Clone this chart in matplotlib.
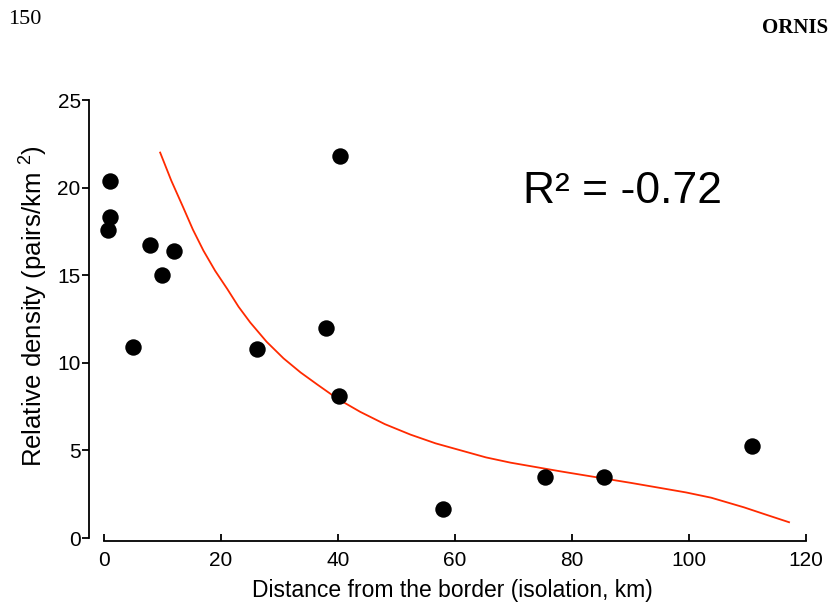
import matplotlib
matplotlib.use("Agg")
import matplotlib as mpl
import matplotlib.pyplot as plt

mpl.rcParams["mathtext.fontset"] = "custom"
mpl.rcParams["mathtext.rm"] = "Liberation Sans"
mpl.rcParams["mathtext.it"] = "Liberation Sans"

# Observed points
distance_km = [1.0, 1.0, 0.7, 7.9, 12.0, 9.9, 4.9, 26.2, 38.0, 40.4, 40.1, 58.0, 75.3, 85.4, 110.8]
density = [20.4, 18.3, 17.6, 16.7, 16.4, 15.0, 10.9, 10.8, 12.0, 21.8, 8.1, 1.65, 3.5, 3.5, 5.25]

# Fitted curve
fit_x = [9.6, 11.5, 13.5, 15.2, 17.0, 19.0, 21.1, 23.0, 25.0, 27.8, 30.7, 33.6, 36.5, 39.9,
         43.8, 48.0, 52.4, 56.7, 61.0, 65.3, 69.5, 73.8, 78.1, 85.4, 90.0, 95.2, 99.5, 103.8,
         109.4, 113.0, 117.1]
fit_y = [22.0, 20.4, 18.9, 17.6, 16.4, 15.25, 14.2, 13.2, 12.3, 11.2, 10.25, 9.45, 8.75, 7.95,
         7.2, 6.5, 5.9, 5.4, 5.0, 4.6, 4.3, 4.05, 3.8, 3.4, 3.15, 2.85, 2.6, 2.3,
         1.75, 1.35, 0.9]

x_ticks = [0, 20, 40, 60, 80, 100, 120]
y_ticks = [0, 5, 10, 15, 20, 25]

W, H = 830, 607
fig = plt.figure(figsize=(W / 100, H / 100), dpi=100)
fig.patch.set_facecolor("white")

left_px, right_px, bottom_px, top_px = 89, 816, 541, 96
ax = fig.add_axes([left_px / W, 1 - bottom_px / H, (right_px - left_px) / W, (bottom_px - top_px) / H])

xpx = 5.85
ypx = 17.52
ax.set_xlim(-(104 - left_px) / xpx, 120 + (right_px - 806) / xpx)
ax.set_ylim(-(bottom_px - 538) / ypx, 25 + (100 - top_px) / ypx)

ax.scatter(distance_km, density, s=140, color="black", zorder=3, linewidths=0)
ax.plot(fit_x, fit_y, color="#ff2a00", linewidth=1.3, zorder=2)

for s in ["top", "right"]:
    ax.spines[s].set_visible(False)
ax.spines["left"].set_bounds(0, 25)
ax.spines["bottom"].set_bounds(0, 120)
ax.spines["left"].set_linewidth(1.3)
ax.spines["bottom"].set_linewidth(1.3)

ax.set_xticks(x_ticks)
ax.set_yticks(y_ticks)
ax.tick_params(axis="y", direction="out", length=5, width=1.3, labelsize=15, pad=1)
ax.tick_params(axis="x", direction="in", length=5, width=1.3, labelsize=15, pad=7)
for lab in ax.get_xticklabels() + ax.get_yticklabels():
    lab.set_fontfamily("Liberation Sans")

ax.set_xlabel("Distance from the border (isolation, km)", fontsize=16.5,
              fontfamily="Liberation Sans")
ax.xaxis.set_label_coords(0.5, -(590 - 541) / (bottom_px - top_px), transform=ax.transAxes)
ax.xaxis.label.set_va("center")
ax.set_ylabel("Relative density (pairs/km $^{2}$)", fontsize=18.5,
              fontfamily="Liberation Sans")
ax.yaxis.set_label_coords(-(89 - 34) / (right_px - left_px), (541 - 306) / (bottom_px - top_px),
                          transform=ax.transAxes)
ax.yaxis.label.set_va("center")

fig.text(523 / W, 1 - 192 / H, "R\u00b2 = -0.72", fontsize=32,
         fontfamily="Liberation Sans", ha="left", va="center")

fig.text(8 / W, 1 - 20 / H, "150", fontsize=16, fontfamily="Liberation Serif",
         ha="left", va="center")
fig.text(762 / W, 1 - 28 / H, "ORNIS", fontsize=15, fontfamily="Liberation Serif",
         fontweight="bold", ha="left", va="center")

fig.savefig("out.png", dpi=100, facecolor="white")
